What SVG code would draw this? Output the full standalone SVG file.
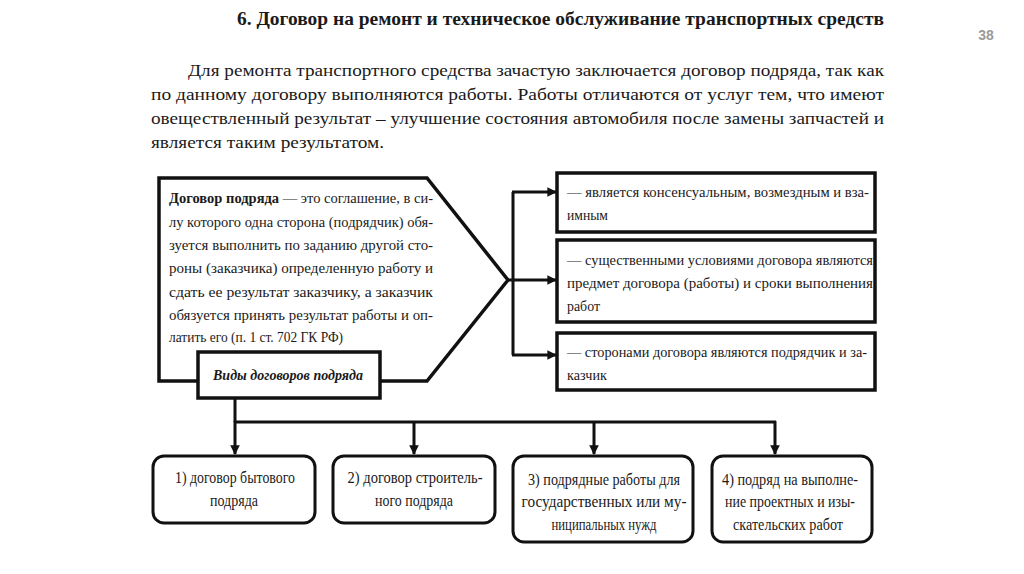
<svg xmlns="http://www.w3.org/2000/svg" width="1024" height="574" viewBox="0 0 1024 574">
<defs>
<style>
text{font-family:'Liberation Serif','Times New Roman',serif;fill:#1a1a1a}
.h{font-size:18px;font-weight:bold}
.p{font-size:17.5px}
.b{font-size:15.5px}
.c{font-size:16px;text-anchor:middle}
.box{fill:#fff;stroke:#111;stroke-width:3.5}
.rb{fill:#fff;stroke:#111;stroke-width:3}
.ln{fill:none;stroke:#111;stroke-width:3}
</style>
<marker id="ah" viewBox="0 0 10 10" refX="9" refY="5" markerWidth="3.2" markerHeight="3.2" orient="auto" markerUnits="strokeWidth">
<path d="M0,0 L10,5 L0,10 Z" fill="#111"/>
</marker>
</defs>
<rect width="1024" height="574" fill="#fff"/>

<g id="header">
<text class="h" x="560.5" y="25" text-anchor="middle" textLength="647" lengthAdjust="spacingAndGlyphs">6. Договор на ремонт и техническое обслуживание транспортных средств</text>
<text x="986" y="40" text-anchor="middle" style="font-family:'Liberation Sans',Arial,sans-serif;font-size:14px;font-weight:bold;fill:#9a9a9a">38</text>
<text class="p" x="188" y="76" textLength="696" lengthAdjust="spacingAndGlyphs">Для ремонта транспортного средства зачастую заключается договор подряда, так как</text>
<text class="p" x="151" y="100" textLength="733" lengthAdjust="spacingAndGlyphs">по данному договору выполняются работы. Работы отличаются от услуг тем, что имеют</text>
<text class="p" x="151" y="124" textLength="733" lengthAdjust="spacingAndGlyphs">овеществленный результат – улучшение состояния автомобиля после замены запчастей и</text>
<text class="p" x="151" y="148" textLength="233" lengthAdjust="spacingAndGlyphs">является таким результатом.</text>
</g>

<g id="connectors">
<line class="ln" x1="508" y1="280" x2="513" y2="280"/>
<line class="ln" x1="513" y1="192" x2="513" y2="355"/>
<line class="ln" x1="512" y1="192" x2="556" y2="192" marker-end="url(#ah)"/>
<line class="ln" x1="513" y1="280" x2="556" y2="280" marker-end="url(#ah)"/>
<line class="ln" x1="512" y1="355" x2="556" y2="355" marker-end="url(#ah)"/>
<line class="ln" x1="235" y1="398" x2="235" y2="422"/>
<line class="ln" x1="234" y1="422" x2="776" y2="422"/>
<line class="ln" x1="235" y1="421" x2="235" y2="454" marker-end="url(#ah)"/>
<line class="ln" x1="414" y1="421" x2="414" y2="454" marker-end="url(#ah)"/>
<line class="ln" x1="594" y1="421" x2="594" y2="454" marker-end="url(#ah)"/>
<line class="ln" x1="775" y1="421" x2="775" y2="454" marker-end="url(#ah)"/>
</g>

<g id="main">
<path class="box" d="M159,178 L427,178 L508,280 L427,381 L159,381 Z"/>
<text class="b" x="169" y="203" textLength="264" lengthAdjust="spacingAndGlyphs"><tspan font-weight="bold">Договор подряда</tspan> — это соглашение, в си-</text>
<text class="b" x="169" y="227" textLength="264" lengthAdjust="spacingAndGlyphs">лу которого одна сторона (подрядчик) обя-</text>
<text class="b" x="169" y="250" textLength="264" lengthAdjust="spacingAndGlyphs">зуется выполнить по заданию другой сто-</text>
<text class="b" x="169" y="273" textLength="264" lengthAdjust="spacingAndGlyphs">роны (заказчика) определенную работу и</text>
<text class="b" x="169" y="297" textLength="264" lengthAdjust="spacingAndGlyphs">сдать ее результат заказчику, а заказчик</text>
<text class="b" x="169" y="320" textLength="264" lengthAdjust="spacingAndGlyphs">обязуется принять результат работы и оп-</text>
<text class="b" x="169" y="342" textLength="174" lengthAdjust="spacingAndGlyphs">латить его (п. 1 ст. 702 ГК РФ)</text>
</g>

<g id="kinds">
<rect class="box" x="198" y="352" width="182" height="46"/>
<text x="288" y="380" text-anchor="middle" textLength="150" lengthAdjust="spacingAndGlyphs" style="font-size:15.5px;font-weight:bold;font-style:italic">Виды договоров подряда</text>
</g>

<g id="r1">
<rect class="box" x="557" y="173" width="318" height="59"/>
<text class="b" x="567" y="197" textLength="302" lengthAdjust="spacingAndGlyphs">— является консенсуальным, возмездным и вза-</text>
<text class="b" x="567" y="220" textLength="41" lengthAdjust="spacingAndGlyphs">имным</text>
</g>
<g id="r2">
<rect class="box" x="557" y="240" width="318" height="82"/>
<text class="b" x="567" y="265" textLength="306" lengthAdjust="spacingAndGlyphs">— существенными условиями договора являются</text>
<text class="b" x="567" y="288" textLength="306" lengthAdjust="spacingAndGlyphs">предмет договора (работы) и сроки выполнения</text>
<text class="b" x="567" y="311" textLength="33" lengthAdjust="spacingAndGlyphs">работ</text>
</g>
<g id="r3">
<rect class="box" x="557" y="333" width="318" height="57"/>
<text class="b" x="567" y="357" textLength="300" lengthAdjust="spacingAndGlyphs">— сторонами договора являются подрядчик и за-</text>
<text class="b" x="567" y="380" textLength="40" lengthAdjust="spacingAndGlyphs">казчик</text>
</g>

<g id="k1">
<rect class="rb" x="153" y="456" width="162" height="67" rx="11"/>
<text class="c" x="235" y="483" textLength="120" lengthAdjust="spacingAndGlyphs">1) договор бытового</text>
<text class="c" x="234" y="506" textLength="48" lengthAdjust="spacingAndGlyphs">подряда</text>
</g>
<g id="k2">
<rect class="rb" x="333" y="456" width="162" height="67" rx="11"/>
<text class="c" x="415" y="483" textLength="135" lengthAdjust="spacingAndGlyphs">2) договор строитель-</text>
<text class="c" x="414" y="506" textLength="78" lengthAdjust="spacingAndGlyphs">ного подряда</text>
</g>
<g id="k3">
<rect class="rb" x="513" y="456" width="180" height="86" rx="11"/>
<text class="c" x="604" y="485" textLength="152" lengthAdjust="spacingAndGlyphs">3) подрядные работы для</text>
<text class="c" x="604" y="507" textLength="165" lengthAdjust="spacingAndGlyphs">государственных или му-</text>
<text class="c" x="604" y="530" textLength="105" lengthAdjust="spacingAndGlyphs">ниципальных нужд</text>
</g>
<g id="k4">
<rect class="rb" x="712" y="456" width="160" height="86" rx="11"/>
<text class="c" x="790" y="485" textLength="136" lengthAdjust="spacingAndGlyphs">4) подряд на выполне-</text>
<text class="c" x="790" y="507" textLength="130" lengthAdjust="spacingAndGlyphs">ние проектных и изы-</text>
<text class="c" x="788" y="530" textLength="110" lengthAdjust="spacingAndGlyphs">скательских работ</text>
</g>
</svg>
